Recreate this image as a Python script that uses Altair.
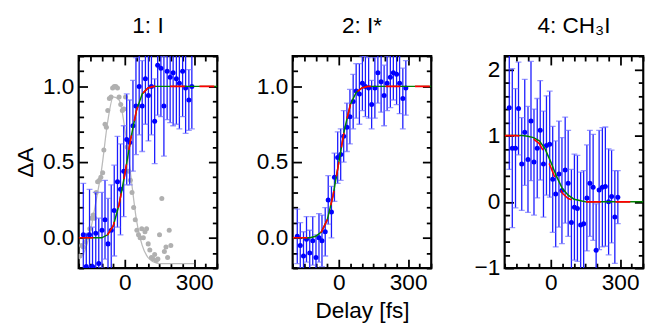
import altair as alt
import pandas as pd

FONT = "Liberation Sans"
FS = 23

# ---- data ----
delay = [-180, -167, -153, -140, -126, -113, -99, -86, -73, -59, -46, -32, -19, -5,
         8, 21, 35, 48, 62, 75, 89, 102, 115, 129, 142, 156, 169, 183, 196, 209,
         223, 236, 250, 263, 277, 290]

p1_y = [0.02, -0.19, 0.02, -0.19, 0.03, -0.17, 0.05, 0.12, -0.04, 0.05, 0.18, 0.37,
        0.32, 0.44, 0.65, 0.63, 0.74, 0.87, 1.0, 0.87, 1.05, 0.94, 1.0, 0.77, 1.14,
        1.12, 0.87, 1.10, 1.06, 1.09, 1.05, 1.02, 1.10, 0.99, 0.91, 1.0]
p1_err = [0.34, 0.22, 0.3, 0.26, 0.27, 0.3, 0.25, 0.26, 0.3, 0.3, 0.3, 0.3,
          0.3, 0.3, 0.3, 0.28, 0.3, 0.32, 0.32, 0.3, 0.3, 0.3, 0.32, 0.28, 0.33,
          0.32, 0.33, 0.32, 0.3, 0.35, 0.3, 0.3, 0.3, 0.3, 0.2, 0.28]

p2_y = [0.01, -0.05, -0.12, -0.01, -0.10, -0.02, -0.13, 0.0, -0.02, 0.04, 0.25, 0.17,
        0.40, 0.53, 0.55, 0.67, 0.73, 0.80, 0.90, 0.97, 0.95, 1.02, 1.0, 0.99, 0.88,
        0.99, 1.09, 1.03, 0.94, 1.02, 1.06, 1.09, 1.08, 1.02, 0.92, 0.99]
p2_err = [0.18, 0.15, 0.16, 0.15, 0.15, 0.16, 0.15, 0.16, 0.17, 0.16, 0.16, 0.17,
          0.16, 0.17, 0.17, 0.17, 0.16, 0.18, 0.18, 0.18, 0.2, 0.18, 0.2, 0.2, 0.16,
          0.2, 0.2, 0.2, 0.2, 0.18, 0.2, 0.18, 0.2, 0.2, 0.2, 0.18]

p3_y = [1.42, 0.81, 0.81, 1.41, 0.57, 1.05, 0.64, 1.22, 0.60, 0.81, 1.08, 0.57,
        0.85, 0.87, 0.34, 0.12, 0.42, 0.17, 0.48, 0.28, -0.31, -0.08, -0.10, -0.35,
        -0.33, 0.06, 0.28, 0.22, -0.73, 0.18, 0.22, 0.23, 0.0, 0.08, -0.23, 0.07]
p3_err = [0.93, 1.2, 0.9, 0.7, 0.7, 0.8, 0.8, 0.9, 0.8, 0.75, 0.75, 0.8,
          0.75, 0.8, 0.8, 0.8, 0.8, 0.8, 0.8, 0.8, 0.8, 0.8, 0.8, 0.8,
          0.8, 0.8, 0.8, 0.8, 0.7, 0.9, 0.9, 0.9, 0.8, 0.7, 0.7, 0.4]

fit_x = [-200, -175, -150, -125, -100, -75, -50, -25, 0, 25, 50, 75, 100, 125, 150,
         175, 200, 250, 300, 350, 400]
green1 = [0.0, 0.0, 0.0, 0.0, 0.0, 0.02, 0.08, 0.22, 0.42, 0.65, 0.84, 0.95, 0.99,
          1.0, 1.0, 1.0, 1.0, 1.0, 1.0, 1.0, 1.0]
red1 = [0.0, 0.0, 0.0, 0.0, 0.0, 0.02, 0.08, 0.22, 0.42, 0.65, 0.84, 0.95, 0.99,
        1.0, 1.0, 1.0, 1.0, 1.0, 1.0, 1.0, 1.0]
green2 = [0.0, 0.0, 0.0, 0.0, 0.01, 0.04, 0.12, 0.28, 0.5, 0.72, 0.88, 0.96, 0.99,
          1.0, 1.0, 1.0, 1.0, 1.0, 1.0, 1.0, 1.0]
red2 = [0.0, 0.0, 0.0, 0.0, 0.01, 0.04, 0.12, 0.28, 0.5, 0.72, 0.88, 0.96, 0.99,
        1.0, 1.0, 1.0, 1.0, 1.0, 1.0, 1.0, 1.0]
green3 = [1.0, 1.0, 1.0, 1.0, 0.99, 0.97, 0.92, 0.8, 0.6, 0.38, 0.2, 0.1, 0.04,
          0.02, 0.0, 0.0, 0.0, 0.0, 0.0, 0.0, 0.0]
red3 = [1.0, 1.0, 1.0, 0.99, 0.98, 0.95, 0.88, 0.72, 0.52, 0.3, 0.13, 0.05, 0.02,
        0.0, 0.0, 0.0, 0.0, 0.0, 0.0, 0.0, 0.0]

gray_x = [-194, -187, -180, -172, -166, -158, -152, -144, -137, -131, -124, -118,
          -110, -104, -96, -91, -86, -80, -74, -67, -60, -53, -46, -39, -32, -25,
          -18, -11, -4, 3, 10, 17, 24, 31, 38, 45, 52, 59, 66, 73, 80, 87, 94, 101,
          108, 115, 122, 129, 136, 143, 150, 160, 171, 178, 185, 192, 199]
gray_y = [-0.12, -0.05, -0.06, -0.03, 0.0, 0.02, 0.06, 0.13, 0.15, 0.13, 0.30, 0.37,
          0.38, 0.40, 0.43, 0.58, 0.75, 0.73, 0.84, 0.92, 0.93, 0.99, 1.0, 1.0, 0.99,
          0.93, 0.88, 0.84, 0.85, 0.93, 0.60, 0.44, 0.38, 0.30, 0.20, 0.12, 0.05,
          0.02, 0.0, 0.06, 0.0, 0.04, 0.06, -0.04, -0.08, -0.13, -0.14, -0.11,
          -0.15, -0.14, 0.02, 0.26, -0.09, -0.06, -0.13, 0.05, -0.05]
gline_x = [-200, -175, -150, -125, -100, -75, -50, -25, 0, 25, 50, 75, 100, 125,
           150, 200, 250, 300]
gline_y = [-0.14, -0.09, 0.04, 0.24, 0.46, 0.76, 0.93, 0.91, 0.72, 0.42, 0.12, -0.05,
           -0.13, -0.16, -0.17, -0.17, -0.17, -0.17]

XDOM = [-200, 400]
X_MAJ = [0, 300]
X_MIN = [-200, -150, -100, -50, 50, 100, 150, 200, 250, 350, 400]
W, H = 141.2, 216


def axis(orient, values, major, labels=False, fmt=None, title=None):
    size = 9 if major else 5
    kw = dict(orient=orient, values=values, tickSize=size, offset=-size,
              domain=False, grid=False, labels=labels, tickColor="black",
              tickWidth=1.8, labelFont=FONT, labelFontSize=FS,
              labelColor="black", labelPadding=5 if orient in ("left", "right") else 4,
              title=title, titleFont=FONT, titleFontSize=FS, titleFontWeight="normal",
              titleColor="black", titlePadding=5, labelFlush=False, labelOverlap=False)
    if fmt:
        kw["format"] = fmt
    return alt.Axis(**kw)


def panel(ys, errs, green, red, ydom, ymaj, ymin, yfmt, title, ytitle=None,
          xtitle=None, gray=False):
    df = pd.DataFrame({"x": delay, "y": ys, "e": errs})
    df["lo"] = df["y"] - df["e"]
    df["hi"] = df["y"] + df["e"]
    caps = pd.DataFrame({"x": delay * 2,
                         "y": list(df["lo"]) + list(df["hi"])})
    fit = pd.DataFrame({"x": fit_x, "g": green, "r": red})
    xs = alt.Scale(domain=XDOM, nice=False, zero=False)
    ysc = alt.Scale(domain=ydom, nice=False, zero=False)

    bars = alt.Chart(df).mark_rule(color="#1a1aff", strokeWidth=1.3, clip=True).encode(
        x=alt.X("x:Q", scale=xs, axis=axis("bottom", X_MAJ, True, True, "d", xtitle)),
        y=alt.Y("lo:Q", scale=ysc, axis=axis("left", ymaj, True, True, yfmt, ytitle)),
        y2="hi:Q")
    capl = alt.Chart(caps).mark_tick(color="#6f6fff", thickness=1.3, size=6,
                                     orient="horizontal", clip=True).encode(
        x=alt.X("x:Q", scale=xs, axis=axis("bottom", X_MIN, False)),
        y=alt.Y("y:Q", scale=ysc, axis=axis("left", ymin, False)))
    pts = alt.Chart(df).mark_circle(color="#0000ff", size=26, opacity=1, clip=True).encode(
        x=alt.X("x:Q", scale=xs, axis=None),
        y=alt.Y("y:Q", scale=ysc, axis=None))
    gl = alt.Chart(fit).mark_line(color="#008000", strokeWidth=1.5, clip=True).encode(
        x=alt.X("x:Q", scale=xs, axis=axis("top", X_MAJ, True)),
        y=alt.Y("g:Q", scale=ysc, axis=axis("right", ymaj, True)))
    rl = alt.Chart(fit).mark_line(color="#ff0000", strokeWidth=1.6,
                                  strokeDash=[15, 15], clip=True).encode(
        x=alt.X("x:Q", scale=xs, axis=axis("top", X_MIN, False)),
        y=alt.Y("r:Q", scale=ysc, axis=axis("right", ymin, False)))
    layers = []
    if gray:
        gdf = pd.DataFrame({"x": gray_x, "y": gray_y})
        ldf = pd.DataFrame({"x": gline_x, "y": gline_y})
        layers.append(alt.Chart(ldf).mark_line(color="#bbbbbb", strokeWidth=1.3,
                                               interpolate="monotone", clip=True).encode(
            x=alt.X("x:Q", scale=xs, axis=None), y=alt.Y("y:Q", scale=ysc, axis=None)))
        layers.append(alt.Chart(gdf).mark_circle(color="#b0b0b0", size=26, opacity=1,
                                                 clip=True).encode(
            x=alt.X("x:Q", scale=xs, axis=None), y=alt.Y("y:Q", scale=ysc, axis=None)))
    layers += [bars, capl, pts, gl, rl]
    return alt.layer(*layers).resolve_axis(x="independent", y="independent").properties(
        width=W, height=H,
        view=alt.ViewBackground(stroke="black", strokeWidth=2.2, fill="white"),
        title=alt.TitleParams(title, font=FONT, fontSize=FS, fontWeight="normal",
                              color="black", offset=18))


p1 = panel(p1_y, p1_err, green1, red1, [-0.2, 1.2], [0, 0.5, 1.0],
           [-0.2, -0.1, 0.1, 0.2, 0.3, 0.4, 0.6, 0.7, 0.8, 0.9, 1.1, 1.2], ".1f",
           "1: I", ytitle="ΔA", gray=True)
p2 = panel(p2_y, p2_err, green2, red2, [-0.2, 1.2], [0, 0.5, 1.0],
           [-0.2, -0.1, 0.1, 0.2, 0.3, 0.4, 0.6, 0.7, 0.8, 0.9, 1.1, 1.2], ".1f",
           "2: I*", xtitle="Delay [fs]")
p3 = panel(p3_y, p3_err, green3, red3, [-1, 2.2], [-1, 0, 1, 2],
           [-0.8, -0.6, -0.4, -0.2, 0.2, 0.4, 0.6, 0.8, 1.2, 1.4, 1.6, 1.8, 2.2], "d",
           "4: CH₃I")

chart = alt.hconcat(alt.hconcat(p1, p2, spacing=35), p3, spacing=39).properties(
    padding={"left": 5, "top": 3, "right": 0, "bottom": 0}
).configure(background="white").configure_view(stroke="black", strokeWidth=2.2)

chart.save("out.html", embed_options={"renderer": "svg", "actions": False})
